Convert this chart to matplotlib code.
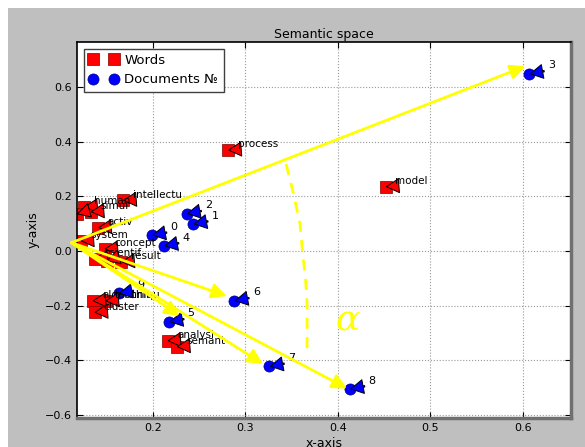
import numpy as np
import matplotlib
matplotlib.use("Agg")
import matplotlib.pyplot as plt
from matplotlib.patches import Rectangle

# words (stemmed) and their coordinates in the semantic space
words = ["process", "model", "intellectu", "human", "simul", "", "activ",
         "system", "concept", "scientif", "", "result",
         "algorithm", "techniqu", "cluster", "analysi", "semant"]
words_x = [0.2815, 0.452, 0.168, 0.126, 0.133, 0.118, 0.141,
           0.122, 0.148, 0.137, 0.150, 0.166,
           0.135, 0.149, 0.137, 0.216, 0.226]
words_y = [0.369, 0.235, 0.185, 0.161, 0.143, 0.135, 0.085,
           0.037, 0.007, -0.029, -0.036, -0.040,
           -0.183, -0.183, -0.225, -0.329, -0.351]

# documents
docs = ["0", "1", "2", "3", "4", "5", "6", "7", "8", "9"]
docs_x = [0.199, 0.2436, 0.2365, 0.607, 0.212, 0.2176, 0.288, 0.326, 0.413, 0.163]
docs_y = [0.057, 0.098, 0.136, 0.648, 0.018, -0.260, -0.183, -0.423, -0.506, -0.156]

# yellow vectors drawn over the plot
vec_origin = (0.112, 0.030)
vec_end_x = [0.6026, 0.280, 0.229, 0.319, 0.410]
vec_end_y = [0.676, -0.165, -0.238, -0.414, -0.504]

# dashed angle arc
arc_x = [0.344, 0.352, 0.359, 0.362, 0.365, 0.3667, 0.3667]
arc_y = [0.318, 0.210, 0.099, -0.011, -0.100, -0.194, -0.377]

fig = plt.figure(figsize=(5.85, 4.47), dpi=100)
fig.patch.set_facecolor("white")
fig.patches.append(Rectangle((8 / 585, 0), 1, 1 - 8 / 447, transform=fig.transFigure,
                             facecolor="#bfbfbf", edgecolor="none", zorder=-10))

ax = fig.add_axes([77 / 585, 29 / 447, 494 / 585, 376 / 447])
ax.set_facecolor("white")

ax.plot(words_x, words_y, "rs", markersize=8, markeredgecolor="#800000",
        markeredgewidth=0.5, label="Words")
for w, x, y in zip(words, words_x, words_y):
    ax.annotate(w, xy=(x, y), xytext=(x + 0.01, y + 0.01), fontsize=7.5,
                arrowprops=dict(facecolor="red", shrink=0.05, width=1,
                                headwidth=10, headlength=9, lw=0.7))

ax.plot(docs_x, docs_y, "bo", markersize=8, markeredgecolor="#000080",
        markeredgewidth=0.5, label="Documents №")
for d, x, y in zip(docs, docs_x, docs_y):
    ax.annotate(d, xy=(x, y), xytext=(x + 0.02, y + 0.02), fontsize=8,
                arrowprops=dict(facecolor="blue", shrink=0.05, width=1,
                                headwidth=10, headlength=9, lw=0.7))

for ex, ey in zip(vec_end_x, vec_end_y):
    ax.annotate("", xy=(ex, ey), xytext=vec_origin, annotation_clip=False,
                arrowprops=dict(arrowstyle="-|>", color="#ffff00", lw=2,
                                mutation_scale=22, shrinkA=0, shrinkB=0))

ax.plot(arc_x, arc_y, color="#ffff00", lw=2, ls=(0, (4, 3)))
ax.text(0.411, -0.256, "α", color="#ffff00", fontsize=26, style="italic",
        family="DejaVu Serif", ha="center", va="center")

ax.set_xlim(0.118, 0.652)
ax.set_ylim(-0.612, 0.765)
ax.set_xticks([0.2, 0.3, 0.4, 0.5, 0.6])
ax.set_yticks([-0.6, -0.4, -0.2, 0.0, 0.2, 0.4, 0.6])
ax.tick_params(direction="in", top=True, right=True, labelsize=8, length=4)
ax.grid(True, ls=":", color="#999999", lw=0.8)
for s in ["left", "top"]:
    ax.spines[s].set_color("black")
    ax.spines[s].set_linewidth(1.2)
for s in ["right", "bottom"]:
    ax.spines[s].set_color("#707070")
    ax.spines[s].set_linewidth(2.5)

ax.set_title("Semantic space", fontsize=9, pad=3)
ax.set_xlabel("x-axis", fontsize=9, labelpad=3)
ax.set_ylabel("y-axis", fontsize=9)

leg = ax.legend(loc="upper left", numpoints=2, fontsize=9.5, fancybox=False,
                framealpha=1, edgecolor="#404040", handlelength=2.2,
                handletextpad=0.5, borderaxespad=0.5)

fig.savefig("out.png", dpi=100, facecolor=fig.get_facecolor())
